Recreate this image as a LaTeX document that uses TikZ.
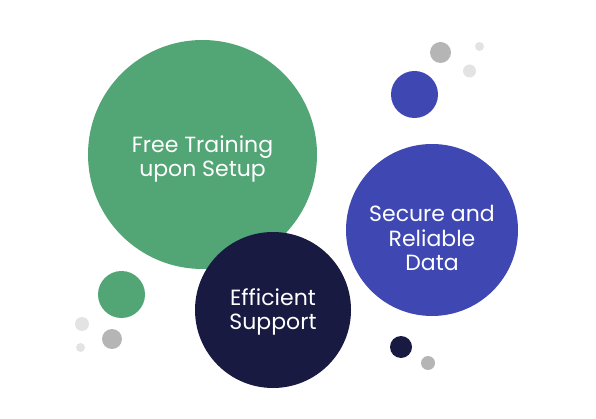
\documentclass[tikz,border=0pt]{standalone}
\usepackage{fontspec}
\setmainfont{Poppins}
\definecolor{cgreen}{HTML}{52A574}
\definecolor{cnavy}{HTML}{181A42}
\definecolor{cblue}{HTML}{3F47B3}
\definecolor{cgray}{HTML}{B5B5B5}
\definecolor{clight}{HTML}{E3E3E3}
\begin{document}
\begin{tikzpicture}[x=1pt,y=-1pt,
  bubble/.style={circle,inner sep=0pt,minimum size=#1},
  txt/.style={text=white,align=center,inner sep=0pt,font=\fontsize{22}{24.5}\selectfont},
  dot/.style={circle,inner sep=0pt,minimum size=#1}]
\useasboundingbox (0,0) rectangle (596,419);
\node[bubble=229,fill=cgreen] (train) at (202.5,154.5) {};
\node[bubble=156,fill=cnavy] (support) at (273,310) {};
\node[bubble=172,fill=cblue] (data) at (432,230) {};
\node[txt] (traintxt) at ([yshift=-4.5pt]train.center) {Free Training\\upon Setup};
\node[txt] (supporttxt) at ([yshift=-2pt]support.center) {Efficient\\Support};
\node[txt] (datatxt) at ([yshift=-8pt]data.center) {Secure and\\Reliable\\Data};
\node[dot=47,fill=cblue] (b1) at (414.5,94.5) {};
\node[dot=47,fill=cgreen] (g1) at (121.5,294.5) {};
\node[dot=22,fill=cnavy] (n1) at (401,347) {};
\node[dot=21,fill=cgray] (s1) at (440.5,52.5) {};
\node[dot=13,fill=clight] (s2) at (469.5,71) {};
\node[dot=9,fill=clight] (s3) at (479.5,46.5) {};
\node[dot=14,fill=clight] (s4) at (82,324) {};
\node[dot=20,fill=cgray] (s5) at (112,339) {};
\node[dot=9,fill=clight] (s6) at (80.5,347.5) {};
\node[dot=14,fill=cgray] (s7) at (428,363) {};
\end{tikzpicture}
\end{document}
